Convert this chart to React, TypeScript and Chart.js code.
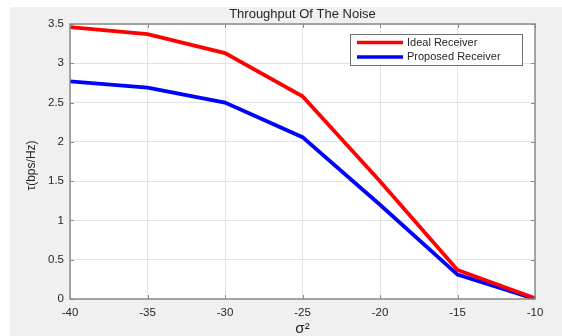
import React, { useEffect, useRef } from "react";
import { Chart, registerables } from "chart.js";

Chart.register(...registerables);

const noiseLevels = [-40, -35, -30, -25, -20, -15, -10];
const idealReceiver = [3.46, 3.37, 3.13, 2.58, 1.5, 0.37, 0.01];
const proposedReceiver = [2.77, 2.69, 2.5, 2.06, 1.2, 0.31, 0.0];
const seriesNames = ["Ideal Receiver", "Proposed Receiver"];
const titleText = "Throughput Of The Noise";
const yLabel = "τ(bps/Hz)";
const xLabel = "σ²";

const FONT = "'Liberation Sans', Arial, Helvetica, sans-serif";
const TEXT = "#262626";
const AXIS = "#8a8a8a";

const framePlugin = {
  id: "matlabFrame",
  beforeDraw(chart: any) {
    const { ctx, chartArea: a } = chart;
    ctx.save();
    ctx.fillStyle = "#ffffff";
    ctx.fillRect(a.left, a.top, a.right - a.left, a.bottom - a.top);
    ctx.restore();
  },
  afterDraw(chart: any) {
    const { ctx, chartArea: a } = chart;
    const xs = chart.scales.x;
    const ys = chart.scales.y;
    ctx.save();
    ctx.strokeStyle = AXIS;
    ctx.lineWidth = 1.5;
    ctx.strokeRect(a.left, a.top, a.right - a.left, a.bottom - a.top);
    ctx.lineWidth = 1;
    const tl = 4;
    xs.ticks.forEach((t: any) => {
      const px = Math.round(xs.getPixelForValue(t.value)) + 0.5;
      ctx.beginPath();
      ctx.moveTo(px, a.bottom);
      ctx.lineTo(px, a.bottom - tl);
      ctx.moveTo(px, a.top);
      ctx.lineTo(px, a.top + tl);
      ctx.stroke();
    });
    ys.ticks.forEach((t: any) => {
      const py = Math.round(ys.getPixelForValue(t.value)) + 0.5;
      ctx.beginPath();
      ctx.moveTo(a.left, py);
      ctx.lineTo(a.left + tl, py);
      ctx.moveTo(a.right, py);
      ctx.lineTo(a.right - tl, py);
      ctx.stroke();
    });
    ctx.fillStyle = TEXT;
    ctx.font = `13px ${FONT}`;
    ctx.textAlign = "center";
    ctx.textBaseline = "middle";
    ctx.fillText(titleText, (a.left + a.right) / 2, a.top - 10);
    ctx.font = `15px ${FONT}`;
    ctx.fillText(xLabel, (a.left + a.right) / 2, a.bottom + 30);
    ctx.save();
    ctx.translate(a.left - 38, (a.top + a.bottom) / 2 + 4);
    ctx.rotate(-Math.PI / 2);
    ctx.font = `12px ${FONT}`;
    ctx.fillText(yLabel, 0, 0);
    ctx.restore();
    const lx = a.right - 185;
    const ly = a.top + 10;
    const lw = 172;
    const lh = 31;
    ctx.fillStyle = "#ffffff";
    ctx.fillRect(lx, ly, lw, lh);
    ctx.strokeStyle = "#6e6e6e";
    ctx.lineWidth = 1;
    ctx.strokeRect(lx + 0.5, ly + 0.5, lw, lh);
    chart.data.datasets.forEach((ds: any, i: number) => {
      const yy = ly + 8.5 + i * 14.5;
      ctx.strokeStyle = ds.borderColor;
      ctx.lineWidth = 3.5;
      ctx.beginPath();
      ctx.moveTo(lx + 7, yy);
      ctx.lineTo(lx + 53, yy);
      ctx.stroke();
      ctx.fillStyle = TEXT;
      ctx.font = `11px ${FONT}`;
      ctx.textAlign = "left";
      ctx.textBaseline = "middle";
      ctx.fillText(ds.label, lx + 57, yy);
    });
    ctx.restore();
  },
};

export default function App() {
  const ref = useRef<HTMLCanvasElement | null>(null);
  useEffect(() => {
    if (!ref.current) return;
    const chart = new Chart(ref.current, {
      type: "line",
      data: {
        datasets: [
          {
            label: seriesNames[0],
            data: noiseLevels.map((x, i) => ({ x, y: idealReceiver[i] })),
            borderColor: "#ff0000",
            borderWidth: 3.8,
            pointRadius: 0,
            tension: 0,
          },
          {
            label: seriesNames[1],
            data: noiseLevels.map((x, i) => ({ x, y: proposedReceiver[i] })),
            borderColor: "#0000ff",
            borderWidth: 3.8,
            pointRadius: 0,
            tension: 0,
          },
        ],
      },
      options: {
        animation: false,
        responsive: false,
        layout: { padding: { left: 0, right: 27, top: 17, bottom: 0 } },
        plugins: { legend: { display: false }, title: { display: false }, tooltip: { enabled: false } },
        scales: {
          x: {
            type: "linear",
            min: -40,
            max: -10,
            ticks: { stepSize: 5, color: TEXT, padding: 7, font: { family: FONT, size: 11.5 } },
            grid: { color: "#e3e3e3", drawTicks: false },
            border: { display: false },
            afterFit: (s: any) => {
              s.height = 37;
            },
          },
          y: {
            min: 0,
            max: 3.5,
            ticks: {
              stepSize: 0.5,
              color: TEXT,
              padding: 6,
              font: { family: FONT, size: 11.5 },
              callback: (v: any) => String(Number(v)),
            },
            grid: { color: "#e3e3e3", drawTicks: false },
            border: { display: false },
            afterFit: (s: any) => {
              s.width = 60;
            },
          },
        },
      },
      plugins: [framePlugin],
    });
    return () => chart.destroy();
  }, []);
  return (
    <div style={{ position: "absolute", left: 0, top: 0, width: 562, height: 336, background: "#ffffff" }}>
      <div style={{ position: "absolute", left: 10, top: 7, width: 552, height: 329, background: "#f0f0f0" }}>
        <canvas ref={ref} width={552} height={329} style={{ display: "block", width: 552, height: 329 }} />
      </div>
    </div>
  );
}
